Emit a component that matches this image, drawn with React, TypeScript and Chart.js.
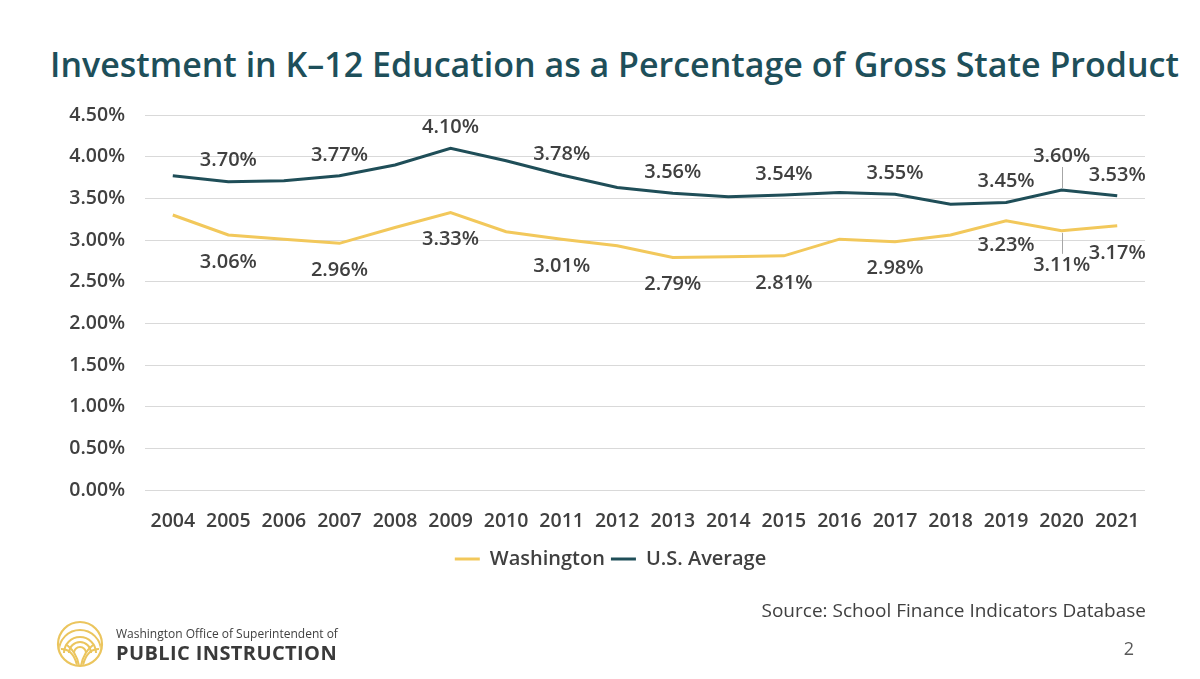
import React, { useEffect, useRef } from "react";
import { Chart, registerables } from "chart.js";

Chart.register(...registerables);

const YEARS = ["2004","2005","2006","2007","2008","2009","2010","2011","2012","2013","2014","2015","2016","2017","2018","2019","2020","2021"];
const WASHINGTON = [3.30, 3.06, 3.01, 2.96, 3.15, 3.33, 3.10, 3.01, 2.93, 2.79, 2.80, 2.81, 3.01, 2.98, 3.06, 3.23, 3.11, 3.17];
const US_AVERAGE = [3.77, 3.70, 3.71, 3.77, 3.90, 4.10, 3.95, 3.78, 3.63, 3.56, 3.52, 3.54, 3.57, 3.55, 3.43, 3.45, 3.60, 3.53];
const WA_LABEL_YEARS = ["2005","2007","2009","2011","2013","2015","2017","2019","2020","2021"];
const US_LABEL_YEARS = ["2005","2007","2009","2011","2013","2015","2017","2019","2020","2021"];
const Y_TICKS = [0, 0.5, 1, 1.5, 2, 2.5, 3, 3.5, 4, 4.5];

const TEAL = "#1F4E58";
const GOLD = "#F2C85B";
const TEXT = "#404040";
const FONT = "'Open Sans', 'Noto Sans', sans-serif";

// label placement (offsets in px, negative = above)
const LABEL_STYLE: Record<number, { years: string[]; def: number; special: Record<string, number>; leaders: string[] }> = {
  0: { years: WA_LABEL_YEARS, def: 27, special: { "2019": 24, "2020": 34 }, leaders: ["2020"] },
  1: { years: US_LABEL_YEARS, def: -21, special: { "2020": -34 }, leaders: ["2020"] },
};

const pointLabels = {
  id: "pointLabels",
  afterDatasetsDraw(chart: any) {
    const ctx = chart.ctx;
    ctx.save();
    chart.data.datasets.forEach((ds: any, di: number) => {
      const meta = chart.getDatasetMeta(di);
      const st = LABEL_STYLE[di];
      meta.data.forEach((pt: any, i: number) => {
        const year = YEARS[i];
        if (!st.years.includes(year)) return;
        const off = st.special[year] ?? st.def;
        const x = pt.x;
        const y = pt.y + off;
        if (st.leaders.includes(year)) {
          ctx.strokeStyle = "#A6A6A6";
          ctx.lineWidth = 1;
          ctx.beginPath();
          const dir = off < 0 ? -1 : 1;
          ctx.moveTo(Math.round(x) + 0.5, pt.y + dir * 2);
          ctx.lineTo(Math.round(x) + 0.5, y - dir * 11);
          ctx.stroke();
        }
        ctx.fillStyle = TEXT;
        ctx.font = `600 20px ${FONT}`;
        ctx.textAlign = "center";
        ctx.textBaseline = "middle";
        ctx.fillText(ds.data[i].toFixed(2) + "%", x, y);
      });
    });
    ctx.restore();
  },
};

// centre the legend under the slide content rather than the whole canvas
const legendShift = {
  id: "legendShift",
  afterLayout(chart: any) {
    const lg = chart.legend;
    if (!lg) return;
    lg.left += 38;
    lg.right += 38;
    if (lg.adjustHitBoxes) lg.adjustHitBoxes();
  },
};

function Logo() {
  return (
    <svg width="50" height="50" viewBox="0 0 50 50" style={{ position: "absolute", left: 55, top: 619 }}>
      <defs>
        <clipPath id="lc">
          <circle cx="25" cy="25" r="21" />
        </clipPath>
      </defs>
      <circle cx="25" cy="25" r="22" fill="none" stroke="#EBC55E" strokeWidth="2.2" />
      <g clipPath="url(#lc)" fill="none" stroke="#EBC55E" strokeWidth="2">
        <path d="M19 34 A6 6 0 0 1 31 34" />
        <path d="M14 34 A11 11 0 0 1 36 34" />
        <path d="M9 34 A16 16 0 0 1 41 34" />
        <path d="M4 32 A21 21 0 0 1 46 32" />
        <path d="M6 30 Q18 30 22 46" />
        <path d="M44 30 Q32 30 28 46" />
        <path d="M12 26 Q22 34 24 47" />
        <path d="M38 26 Q28 34 26 47" />
      </g>
    </svg>
  );
}

export default function App() {
  const ref = useRef<HTMLCanvasElement>(null);
  useEffect(() => {
    if (!ref.current) return;
    const chart = new Chart(ref.current, {
      type: "line",
      data: {
        labels: YEARS,
        datasets: [
          { label: "Washington", data: WASHINGTON, borderColor: GOLD, backgroundColor: GOLD, borderWidth: 3, pointRadius: 0, tension: 0 },
          { label: "U.S. Average", data: US_AVERAGE, borderColor: TEAL, backgroundColor: TEAL, borderWidth: 3, pointRadius: 0, tension: 0 },
        ],
      },
      options: {
        responsive: false,
        animation: false,
        devicePixelRatio: 1,
        layout: { padding: { top: 115, left: 0, right: 55, bottom: 100 } },
        plugins: {
          tooltip: { enabled: false },
          legend: {
            position: "bottom",
            labels: {
              usePointStyle: true,
              pointStyle: "line",
              pointStyleWidth: 25,
              padding: 6,
              color: TEXT,
              font: { family: FONT, size: 20, weight: "600" },
            },
          },
        },
        scales: {
          x: {
            offset: true,
            grid: { display: false, drawTicks: false },
            border: { display: false },
            ticks: { color: TEXT, font: { family: FONT, size: 19.5, weight: "600" }, padding: 20, maxRotation: 0, autoSkip: false },
            afterFit: (s: any) => { s.height = 53; },
          },
          y: {
            min: 0,
            max: 4.5,
            afterBuildTicks: (s: any) => { s.ticks = Y_TICKS.map((v) => ({ value: v })); },
            grid: { color: "#D9D9D9", lineWidth: 1, drawTicks: false },
            border: { display: false },
            ticks: {
              color: TEXT,
              font: { family: FONT, size: 19.5, weight: "600" },
              padding: 20,
              callback: (v: any) => Number(v).toFixed(2) + "%",
            },
            afterFit: (s: any) => { s.width = 145; },
          },
        },
      } as any,
      plugins: [pointLabels, legendShift],
    });
    return () => chart.destroy();
  }, []);

  return (
    <div style={{ position: "absolute", left: 0, top: 0, width: 1200, height: 679, background: "#fff", overflow: "hidden", fontFamily: FONT }}>
      <div style={{ position: "absolute", left: 50, top: 44, fontSize: 34, lineHeight: "40px", fontWeight: 600, color: "#1E4F5A", whiteSpace: "nowrap" }}>
        Investment in K–12 Education as a Percentage of Gross State Product
      </div>
      <canvas ref={ref} width={1200} height={679} style={{ position: "absolute", left: 0, top: 0, width: 1200, height: 679 }} />
      <div style={{ position: "absolute", right: 54, top: 597, fontSize: 19, lineHeight: "26px", color: TEXT, whiteSpace: "nowrap" }}>
        Source: School Finance Indicators Database
      </div>
      <div style={{ position: "absolute", right: 66, top: 636, fontSize: 18, lineHeight: "24px", color: "#595959" }}>2</div>
      <Logo />
      <div style={{ position: "absolute", left: 116, top: 625, fontSize: 12, lineHeight: "17px", color: TEXT, whiteSpace: "nowrap" }}>
        Washington Office of Superintendent of
      </div>
      <div style={{ position: "absolute", left: 116, top: 640, fontSize: 20, lineHeight: "26px", fontWeight: 700, color: "#3A3A3A", whiteSpace: "nowrap", letterSpacing: 0.4 }}>
        PUBLIC INSTRUCTION
      </div>
    </div>
  );
}
